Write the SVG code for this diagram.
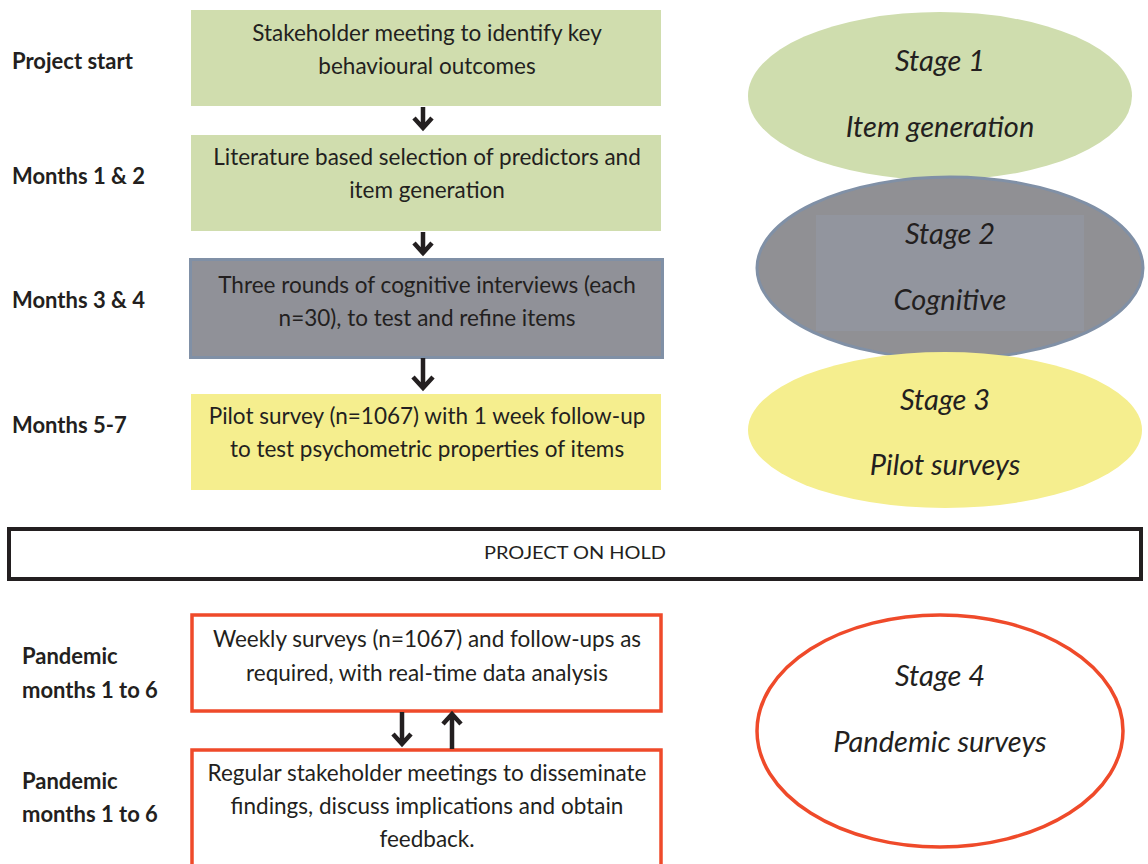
<svg xmlns="http://www.w3.org/2000/svg" width="1148" height="864" viewBox="0 0 1148 864">
<style>
.t{font-family:Lato,"Open Sans",sans-serif;font-size:22.5px;fill:#231f20;text-anchor:middle}
.l{font-family:Lato,"Open Sans",sans-serif;font-size:22px;font-weight:bold;fill:#231f20}
.s{font-family:Lato,"Open Sans",sans-serif;font-size:29px;font-style:italic;fill:#231f20;text-anchor:middle}
.a{fill:none;stroke:#231f20;stroke-width:4.5;stroke-linecap:butt;stroke-linejoin:miter}
.o{fill:#fff;stroke:#ef4a2a;stroke-width:3.5}
</style>
<rect width="1148" height="864" fill="#fff"/>
<g id="labels">
<text class="l" x="12" y="69">Project start</text>
<text class="l" x="12" y="184">Months 1 &amp; 2</text>
<text class="l" x="12" y="308">Months 3 &amp; 4</text>
<text class="l" x="12" y="433">Months 5-7</text>
<text class="l" x="22" y="664">Pandemic</text>
<text class="l" x="22" y="698">months 1 to 6</text>
<text class="l" x="22" y="789">Pandemic</text>
<text class="l" x="22" y="822">months 1 to 6</text>
</g>
<g id="box1">
<rect x="191" y="10" width="470" height="96" fill="#d0ddae"/>
<text class="t" x="427" y="41">Stakeholder meeting to identify key</text>
<text class="t" x="427" y="74">behavioural outcomes</text>
</g>
<g id="box2">
<rect x="191" y="135" width="470" height="96" fill="#d0ddae"/>
<text class="t" x="427" y="165">Literature based selection of predictors and</text>
<text class="t" x="427" y="198">item generation</text>
</g>
<g id="box3">
<rect x="190.5" y="259.5" width="472" height="98" fill="#909198" stroke="#8090a6" stroke-width="3"/>
<text class="t" x="427" y="293">Three rounds of cognitive interviews (each</text>
<text class="t" x="427" y="326">n=30), to test and refine items</text>
</g>
<g id="box4">
<rect x="191" y="394" width="470" height="96" fill="#f5ee8e"/>
<text class="t" x="427" y="424">Pilot survey (n=1067) with 1 week follow-up</text>
<text class="t" x="427" y="457">to test psychometric properties of items</text>
</g>
<g id="hold">
<rect x="9" y="529" width="1132" height="50" fill="#fff" stroke="#231f20" stroke-width="4"/>
<text x="575" y="559" font-family="Lato,'Open Sans',sans-serif" font-size="18" fill="#231f20" text-anchor="middle" textLength="182" lengthAdjust="spacingAndGlyphs">PROJECT ON HOLD</text>
</g>
<g id="box5">
<rect class="o" x="192" y="615" width="469" height="96"/>
<text class="t" x="427" y="647">Weekly surveys (n=1067) and follow-ups as</text>
<text class="t" x="427" y="681">required, with real-time data analysis</text>
</g>
<g id="box6">
<rect class="o" x="192" y="750" width="469" height="130"/>
<text class="t" x="427" y="781">Regular stakeholder meetings to disseminate</text>
<text class="t" x="427" y="814">findings, discuss implications and obtain</text>
<text class="t" x="427" y="847">feedback.</text>
</g>
<g id="stage1">
<ellipse cx="940" cy="96" rx="192" ry="84" fill="#cfddae"/>
<text class="s" x="940" y="71">Stage 1</text>
<text class="s" x="940" y="137">Item generation</text>
</g>
<g id="stage2">
<ellipse cx="950" cy="268" rx="193" ry="91" fill="#909094" stroke="#8090a6" stroke-width="3"/>
<rect x="816" y="215" width="268" height="116" fill="#92959e"/>
<text class="s" x="950" y="244">Stage 2</text>
<text class="s" x="950" y="310">Cognitive</text>
</g>
<g id="stage3">
<ellipse cx="945" cy="430" rx="197" ry="78" fill="#f5ee8e"/>
<text class="s" x="945" y="410">Stage 3</text>
<text class="s" x="945" y="475">Pilot surveys</text>
</g>
<g id="stage4">
<ellipse cx="940" cy="731" rx="183" ry="116" fill="#fff" stroke="#ef4a2a" stroke-width="3.5"/>
<text class="s" x="940" y="686">Stage 4</text>
<text class="s" x="940" y="752">Pandemic surveys</text>
</g>
<g id="connectors">
<path class="a" d="M423 107V128M414 118L423 128L432 118"/>
<path class="a" d="M423 232V253M414 243L423 253L432 243"/>
<path class="a" d="M423 358V388M413 377L423 388L433 377"/>
<path class="a" d="M402 712V744M393 734L402 744L411 734"/>
<path class="a" d="M452 749V715M443 724L452 714L461 724"/>
</g>
</svg>
